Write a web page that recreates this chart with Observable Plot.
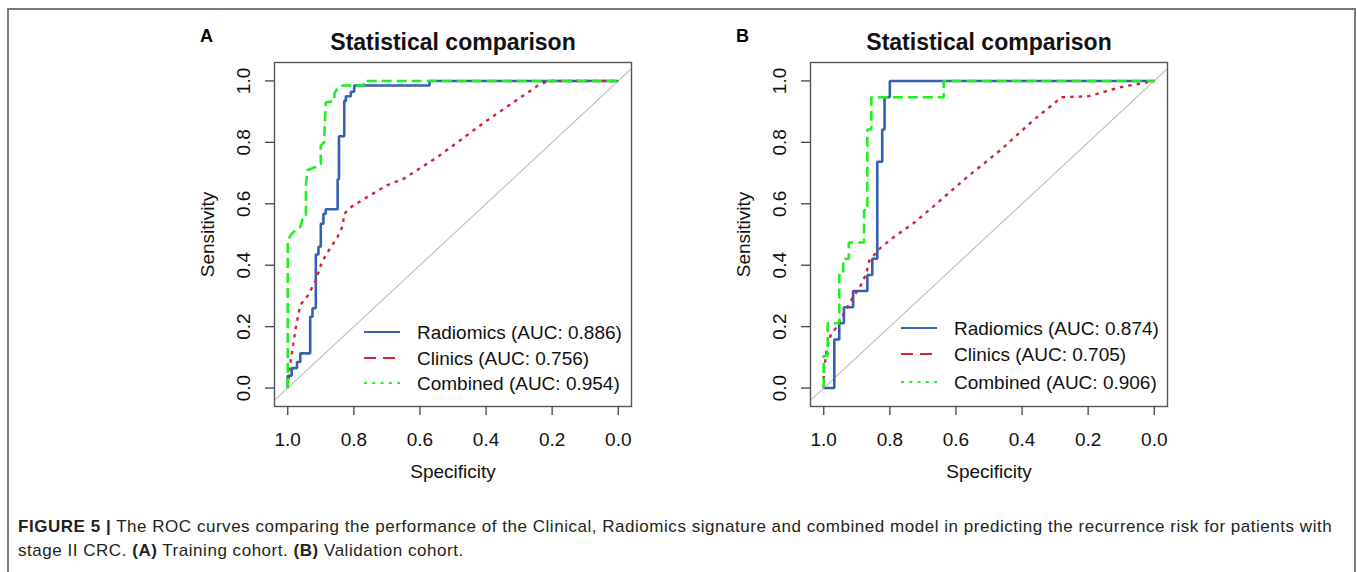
<!DOCTYPE html>
<html><head><meta charset="utf-8">
<script src="https://cdn.jsdelivr.net/npm/d3@7"></script>
<script src="https://cdn.jsdelivr.net/npm/@observablehq/plot@0.6"></script>
<style>
body{margin:0;background:#fff;}
#root{position:relative;width:1357px;height:572px;overflow:hidden;font-family:"Liberation Sans",Arial,sans-serif;background:#fff;}
.outer{position:absolute;left:7px;top:8px;width:1349px;height:620px;border:2px solid #7a7a7a;box-sizing:border-box;}
.panel{position:absolute;top:20px;}
.legend{position:absolute;}
.caption{position:absolute;left:18px;top:515px;font-size:17px;letter-spacing:0.53px;line-height:24px;color:#231f20;white-space:nowrap;font-family:"Liberation Sans",Arial,sans-serif;}
.caption b{font-weight:bold;}
</style></head><body><div id="root"><div class="outer"></div></div>
<script>
// ---- data ----
const specTicks = [1.0, 0.8, 0.6, 0.4, 0.2, 0.0];
const sensTicks = [0.0, 0.2, 0.4, 0.6, 0.8, 1.0];
const seriesNames = ["Radiomics", "Clinics", "Combined"];
const aucA = ["0.886", "0.756", "0.954"];
const aucB = ["0.874", "0.705", "0.906"];
const panelLetters = ["A", "B"];
const titleText = "Statistical comparison";
const xLabel = "Specificity";
const yLabel = "Sensitivity";

// [specificity, sensitivity]
const radiomicsA = [[1.000,0.000],[1.000,0.040],[0.988,0.040],[0.988,0.065],[0.972,0.065],[0.972,0.085],[0.962,0.085],[0.962,0.113],[0.932,0.113],[0.932,0.232],[0.925,0.232],[0.925,0.260],[0.915,0.260],[0.915,0.435],[0.907,0.435],[0.907,0.460],[0.900,0.460],[0.900,0.535],[0.892,0.535],[0.892,0.567],[0.885,0.567],[0.885,0.582],[0.849,0.582],[0.849,0.680],[0.845,0.680],[0.845,0.820],[0.829,0.820],[0.829,0.935],[0.824,0.935],[0.824,0.950],[0.809,0.950],[0.809,0.965],[0.799,0.965],[0.799,0.985],[0.571,0.985],[0.571,1.000],[0.000,1.000]];
const clinicsA = [[1.000,0.000],[0.995,0.060],[0.985,0.130],[0.975,0.200],[0.962,0.270],[0.940,0.300],[0.915,0.350],[0.897,0.410],[0.875,0.450],[0.850,0.490],[0.833,0.530],[0.830,0.565],[0.815,0.585],[0.758,0.623],[0.700,0.660],[0.647,0.683],[0.546,0.753],[0.395,0.873],[0.243,0.985],[0.213,1.000],[0.000,1.000]];
const combinedA = [[1.000,0.000],[1.000,0.480],[0.990,0.500],[0.975,0.515],[0.962,0.525],[0.955,0.550],[0.945,0.555],[0.945,0.660],[0.940,0.710],[0.915,0.720],[0.905,0.730],[0.900,0.730],[0.900,0.790],[0.890,0.800],[0.885,0.930],[0.860,0.935],[0.858,0.960],[0.850,0.975],[0.835,0.985],[0.770,0.985],[0.770,1.000],[0.000,1.000]];

const radiomicsB = [[1.000,0.000],[0.968,0.000],[0.968,0.158],[0.953,0.158],[0.953,0.211],[0.939,0.211],[0.939,0.263],[0.911,0.263],[0.911,0.316],[0.868,0.316],[0.868,0.368],[0.853,0.368],[0.853,0.421],[0.838,0.421],[0.838,0.737],[0.823,0.737],[0.823,0.842],[0.816,0.842],[0.816,0.947],[0.800,0.947],[0.800,1.000],[0.000,1.000]];
const clinicsB = [[1.000,0.000],[1.000,0.053],[0.990,0.130],[0.978,0.175],[0.960,0.200],[0.948,0.225],[0.930,0.260],[0.912,0.295],[0.890,0.330],[0.872,0.370],[0.862,0.415],[0.830,0.455],[0.790,0.490],[0.730,0.535],[0.670,0.590],[0.565,0.688],[0.465,0.775],[0.365,0.873],[0.280,0.947],[0.200,0.950],[0.100,0.980],[0.000,1.000]];
const combinedB = [[1.000,0.000],[1.000,0.105],[0.988,0.105],[0.988,0.211],[0.953,0.211],[0.953,0.368],[0.941,0.368],[0.941,0.421],[0.924,0.421],[0.924,0.474],[0.878,0.474],[0.878,0.579],[0.868,0.579],[0.868,0.842],[0.856,0.842],[0.856,0.947],[0.637,0.947],[0.637,1.000],[0.000,1.000]];

// reference diagonal sens = 1 - spec (clipped to the frame)
const diagonalSpec = [1.2, -0.2];

// ---- styles ----
const colors = ["#3461b3", "#d3233b", "#1ff01f"];
const plotDash = [null, "3.5 5", "10 5"];         // as drawn in the curves
const legendDash = [null, "12 7", "3 5.3"];        // as drawn in the legend
const widths = [2.6, 2.4, 2.6];

const root = document.getElementById("root");

function makePanel(curves, aucs, letter, left, legendBox) {
  const diag = diagonalSpec.map(s => ({spec: s, sens: 1 - s}));
  const plot = Plot.plot({
    width: 470, height: 480,
    marginLeft: 94, marginRight: 19, marginTop: 42, marginBottom: 94,
    x: {domain: [1.04, -0.04]},
    y: {domain: [-0.06, 1.06]},
    style: {fontFamily: "'Liberation Sans', Arial, sans-serif", fontSize: "19px", color: "#111", background: "transparent", overflow: "visible"},
    marks: [
      Plot.line(diag, {x: "spec", y: "sens", stroke: "#bdbdbd", strokeWidth: 1.1, clip: true}),
      ...curves.map((c, i) => Plot.line(c, {x: d => d[0], y: d => d[1], stroke: colors[i], strokeWidth: widths[i], strokeDasharray: plotDash[i], strokeLinejoin: "miter", strokeLinecap: "butt"})),
      Plot.frame({stroke: "#555", strokeWidth: 1.4}),
      Plot.axisX(specTicks, {tickSize: 9, tickFormat: () => "", label: null, stroke: "#444", strokeWidth: 1.3}),
      Plot.axisY(sensTicks, {tickSize: 9, tickFormat: () => "", label: null, stroke: "#444", strokeWidth: 1.3}),
      Plot.text(specTicks, {x: d => d, frameAnchor: "bottom", dy: 33, text: d => d.toFixed(1), lineAnchor: "middle", fontSize: 19, fill: "#111"}),
      Plot.text(sensTicks, {y: d => d, frameAnchor: "left", dx: -31, rotate: -90, text: d => d.toFixed(1), textAnchor: "middle", lineAnchor: "middle", fontSize: 19, fill: "#111"}),
      Plot.text([xLabel], {frameAnchor: "bottom", dy: 65, text: d => d, lineAnchor: "middle", fontSize: 19, fill: "#111"}),
      Plot.text([yLabel], {frameAnchor: "left", dx: -67, rotate: -90, text: d => d, textAnchor: "middle", lineAnchor: "middle", fontSize: 19, fill: "#111"}),
      Plot.text([titleText], {frameAnchor: "top", dy: -20, text: d => d, lineAnchor: "middle", fontSize: 23, fontWeight: "bold", fill: "#111"}),
      Plot.text([letter], {frameAnchor: "top-left", dx: -68, dy: -26, text: d => d, textAnchor: "middle", lineAnchor: "middle", fontSize: 18, fontWeight: "bold", fill: "#000"})
    ]
  });
  plot.classList.add("panel");
  plot.style.left = left + "px";
  root.appendChild(plot);

  // legend (no box), placed inside the plotting frame
  const lg = d3.select(root).append("svg").attr("class", "legend")
    .attr("width", 300).attr("height", 80)
    .style("left", legendBox.x + "px").style("top", legendBox.y + "px");
  seriesNames.forEach((name, i) => {
    const yy = 12 + i * legendBox.step[i];
    lg.append("line").attr("x1", 0).attr("x2", 36).attr("y1", yy).attr("y2", yy)
      .attr("stroke", colors[i]).attr("stroke-width", 2.2)
      .attr("stroke-dasharray", legendDash[i]);
    lg.append("text").attr("x", 53).attr("y", yy).attr("dy", "0.35em")
      .attr("font-family", "'Liberation Sans', Arial, sans-serif").attr("font-size", 19)
      .attr("fill", "#111")
      .text(`${name} (AUC: ${aucs[i]})`);
  });
}

makePanel([radiomicsA, clinicsA, combinedA], aucA, panelLetters[0], 180, {x: 364, y: 320, step: [0, 26, 25.5]});
makePanel([radiomicsB, clinicsB, combinedB], aucB, panelLetters[1], 716, {x: 901, y: 316, step: [0, 26, 27]});

const cap = document.createElement("div");
cap.className = "caption";
cap.innerHTML = "<b>FIGURE 5 |</b> The ROC curves comparing the performance of the Clinical, Radiomics signature and combined model in predicting the recurrence risk for patients with<br>stage II CRC. <b>(A)</b> Training cohort. <b>(B)</b> Validation cohort.";
root.appendChild(cap);
</script></body></html>
